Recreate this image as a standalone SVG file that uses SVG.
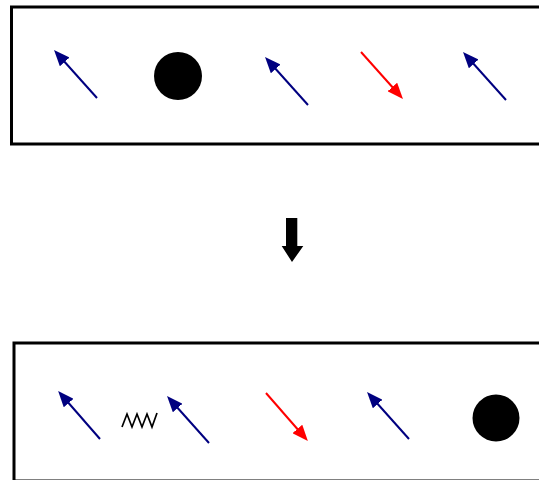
<svg xmlns="http://www.w3.org/2000/svg" width="539" height="480" viewBox="0 0 539 480">
<style>
.box{fill:none;stroke:#000;stroke-width:3}
.blue{stroke:#000080;stroke-width:2;fill:none;marker-end:url(#hb)}
.red{stroke:#ff0000;stroke-width:2;fill:none;marker-end:url(#hr)}
.ball{fill:#000}
</style>
<defs>
<marker id="hb" viewBox="0 0 16 13" refX="6" refY="6.5" markerWidth="16" markerHeight="13" markerUnits="userSpaceOnUse" orient="auto"><path d="M0,0 L16,6.5 L0,13 z" fill="#000080"/></marker>
<marker id="hr" viewBox="0 0 16 13" refX="6" refY="6.5" markerWidth="16" markerHeight="13" markerUnits="userSpaceOnUse" orient="auto"><path d="M0,0 L16,6.5 L0,13 z" fill="#ff0000"/></marker>
</defs>
<rect width="539" height="480" fill="#fff"/>
<g id="top-box">
<rect class="box" x="11.5" y="7" width="540" height="137"/>
</g>
<g id="top-ball"><circle class="ball" cx="178" cy="76" r="24"/></g>
<g id="bottom-box">
<rect class="box" x="14" y="343" width="540" height="138"/>
</g>
<g id="bottom-ball"><circle class="ball" cx="496" cy="418" r="23.5"/></g>
<g id="spring"><polyline points="122,427 127,414 132,427 137,414 142,427 147,414 152,427 157,413" fill="none" stroke="#000" stroke-width="1.7"/></g>
<g id="transition"><path d="M286,218 H297.3 V246 H303.3 L292,262 L281.7,246 H286 z" fill="#000"/></g>
<g id="connectors">
<line class="blue" x1="97" y1="98" x2="60.7" y2="57.5"/>
<line class="blue" x1="308" y1="105" x2="271.7" y2="64.5"/>
<line class="red" x1="361" y1="52" x2="396.3" y2="91.5"/>
<line class="blue" x1="506" y1="100" x2="469.7" y2="59.5"/>
<line class="blue" x1="100" y1="439" x2="64.7" y2="398.5"/>
<line class="blue" x1="209" y1="443" x2="173.7" y2="403.5"/>
<line class="red" x1="266" y1="393" x2="301.3" y2="433.5"/>
<line class="blue" x1="409" y1="439" x2="373.7" y2="399.5"/>
</g>
</svg>
